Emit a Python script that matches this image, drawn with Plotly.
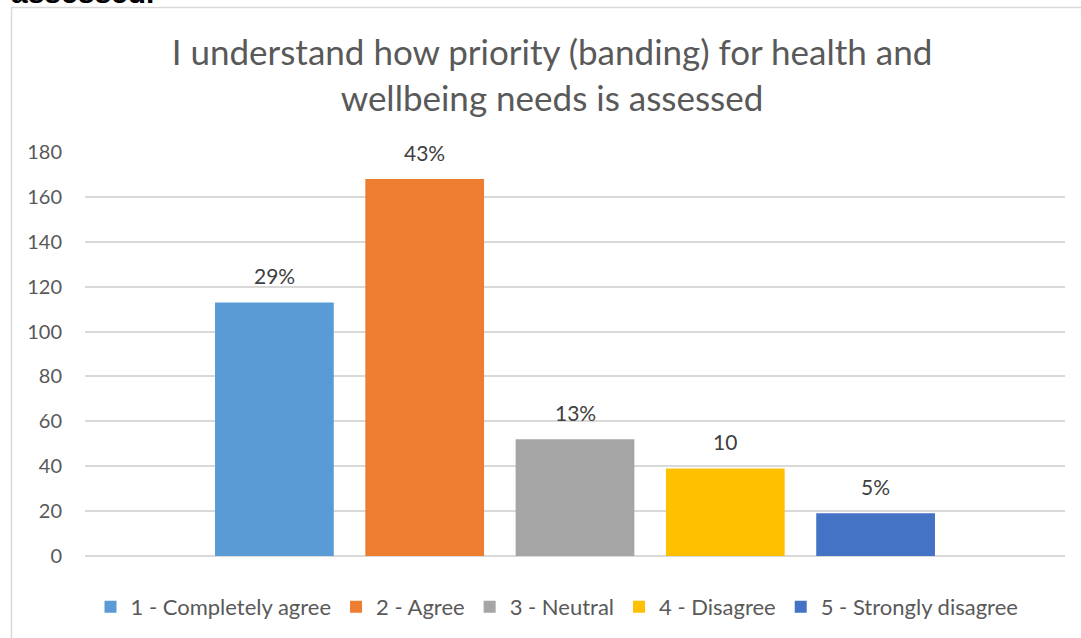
import plotly.graph_objects as go

# Survey responses
categories = ["1 - Completely agree", "2 - Agree", "3 - Neutral", "4 - Disagree", "5 - Strongly disagree"]
counts = [113, 168, 52, 39, 19]
labels = ["29%", "43%", "13%", "10", "5%"]
colors = ["#5B9BD5", "#ED7D31", "#A5A5A5", "#FFC000", "#4472C4"]
y_ticks = [0, 20, 40, 60, 80, 100, 120, 140, 160, 180]

W, H = 1081, 638
L, R, T, B = 85, 16, 152, 82
plot_w = W - L - R
plot_h = H - T - B


def px_x(p):
    return (p - L) / plot_w


def px_y(p):
    return (H - B - p) / plot_h


FONT = "Lato"
TEXT = "#595959"

fig = go.Figure()
for name, val, col in zip(categories, counts, colors):
    fig.add_trace(go.Bar(
        x=[name], y=[val], name=name,
        marker=dict(color=col, line=dict(width=0)),
        width=0.79,
    ))

annotations = [
    dict(x=name, y=val, xref="x", yref="y", text=lab, showarrow=False,
         yanchor="bottom", yshift=12, font=dict(family=FONT, size=21, color="#404040"))
    for name, val, lab in zip(categories, counts, labels)
]
# heading of the page text above the chart, mostly cut off
annotations.append(dict(
    x=px_x(9), y=px_y(11), xref="paper", yref="paper", xanchor="left", yanchor="bottom",
    text="<b>assessed.</b>", showarrow=False,
    font=dict(family="Liberation Sans", size=30, color="#000000"),
))

fig.update_layout(
    width=W, height=H,
    margin=dict(l=L, r=R, t=T, b=B),
    paper_bgcolor="white", plot_bgcolor="white",
    barmode="overlay",
    title=dict(
        text="I understand how priority (banding) for health and<br>wellbeing needs is assessed",
        x=px_x(552), xref="paper", xanchor="center",
        y=1 - 65 / H, yanchor="top",
        font=dict(family=FONT, size=35, color=TEXT),
    ),
    xaxis=dict(
        type="category", categoryorder="array", categoryarray=categories,
        range=[-1.26, 5.26], showticklabels=False, showgrid=False,
        zeroline=False, showline=False, ticks="", fixedrange=True,
    ),
    yaxis=dict(
        range=[0, 180], tickvals=y_ticks, showgrid=True, gridcolor="#d9d9d9",
        gridwidth=1.5, zeroline=True, zerolinecolor="#d9d9d9", zerolinewidth=1.5,
        showline=False, ticks="", ticklabelstandoff=22,
        tickfont=dict(family=FONT, size=20, color=TEXT),
    ),
    legend=dict(
        orientation="h", x=px_x(557), xanchor="center",
        yref="container", y=1 - 607 / H, yanchor="middle",
        font=dict(family=FONT, size=22, color=TEXT), traceorder="normal",
        itemwidth=30, bgcolor="rgba(0,0,0,0)",
    ),
    showlegend=True,
    annotations=annotations,
    shapes=[dict(
        type="rect", xref="paper", yref="paper",
        x0=px_x(11.5), x1=px_x(1090), y0=px_y(650), y1=px_y(7.5),
        line=dict(color="#d9d9d9", width=1.5), fillcolor="rgba(0,0,0,0)", layer="below",
    )],
)

fig.write_html("out.html")
